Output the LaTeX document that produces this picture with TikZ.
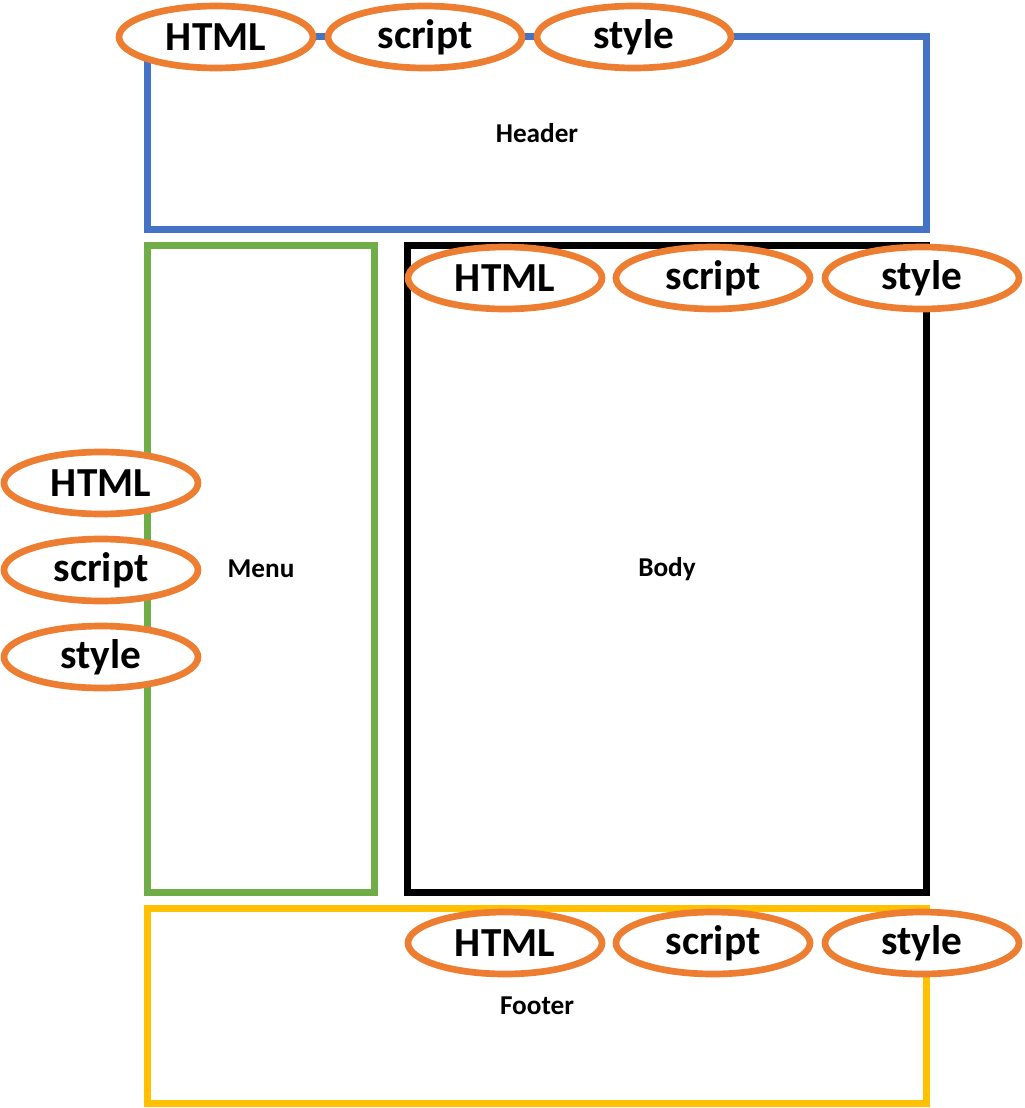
\documentclass[tikz,border=0pt]{standalone}
\usepackage{fontspec}
\setmainfont{Carlito}
\usetikzlibrary{shapes.geometric}

\definecolor{hdrblue}{HTML}{4472C4}
\definecolor{menugreen}{HTML}{70AD47}
\definecolor{footyellow}{HTML}{FFC000}
\definecolor{partorange}{HTML}{ED7D31}

\tikzset{
    region/.style = {draw = #1, line width = 4pt, inner sep = 0pt,
        font = \fontsize{15.5}{18}\selectfont\bfseries},
    part/.style = {ellipse, draw = partorange, fill = white, line width = 3.8pt,
        minimum width = 3.88cm, minimum height = 1.24cm, inner sep = 0pt,
        font = \fontsize{23.5}{28}\selectfont\bfseries}
}

\begin{document}
\begin{tikzpicture}[x=0.02cm, y=-0.02cm]
        \useasboundingbox (0,0) rectangle (1024,1108);
        % regions
        \node[region = hdrblue, minimum width = 15.6cm, minimum height = 3.88cm] (header) at (537,133) {Header};
        \node[region = menugreen, minimum width = 4.56cm, minimum height = 12.96cm] (menu) at (261,569) {Menu};
        \node[region = black, minimum width = 10.4cm, minimum height = 12.96cm] (body) at (667,569) {Body};
        \node[region = footyellow, minimum width = 15.6cm, minimum height = 3.9cm] (footer) at (537,1006) {Footer};
        % header parts
        \foreach \t/\x in {HTML/216, script/425, style/634}
        {
            \node[part] (header-\t) at (\x,37) {\t};
        }
        % body parts
        \foreach \t/\x in {HTML/505, script/713, style/922}
        {
            \node[part] (body-\t) at (\x,278) {\t};
        }
        % menu parts
        \foreach \t/\y in {HTML/483, script/570, style/657}
        {
            \node[part] (menu-\t) at (101,\y) {\t};
        }
        % footer parts
        \foreach \t/\x in {HTML/505, script/713, style/922}
        {
            \node[part] (footer-\t) at (\x,943) {\t};
        }
    \end{tikzpicture}
\end{document}
